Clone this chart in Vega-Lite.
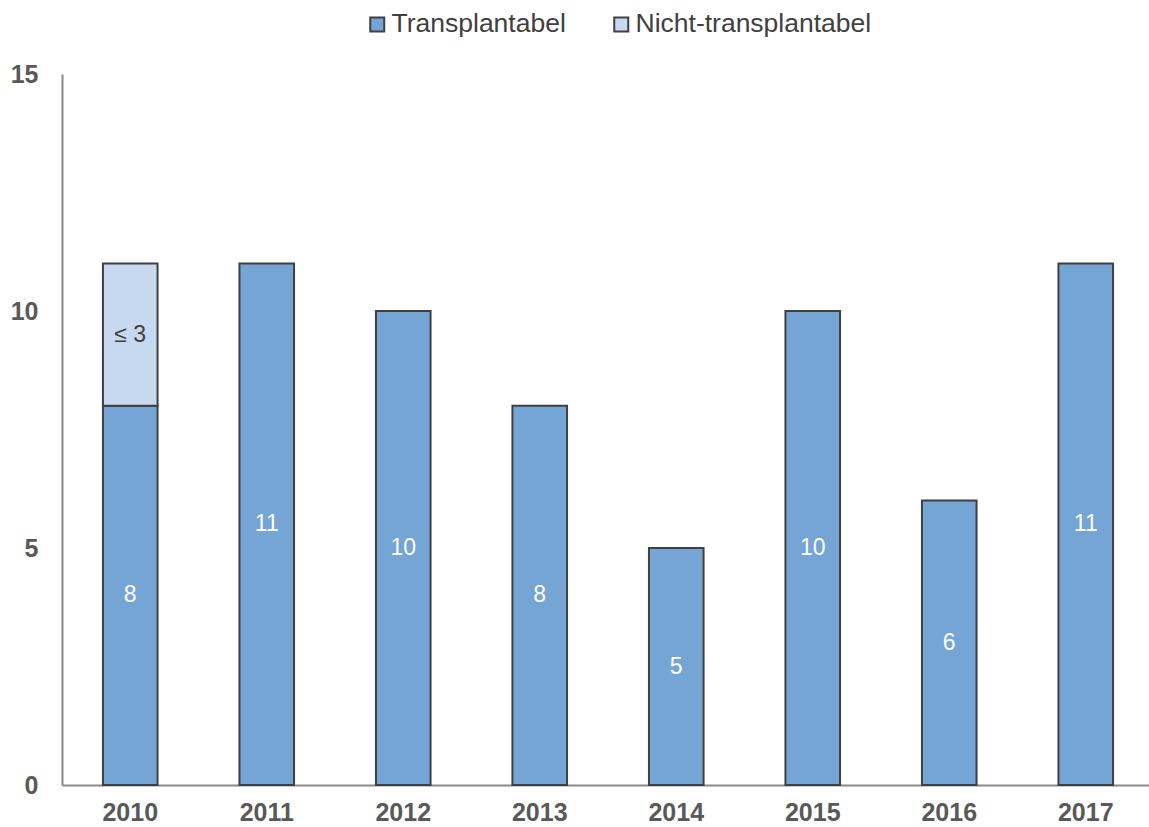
{
  "$schema": "https://vega.github.io/schema/vega-lite/v6.json",
  "width": 1092,
  "height": 711,
  "autosize": {"type": "none"},
  "padding": {"left": 62, "top": 74, "right": 0, "bottom": 42},
  "background": "white",
  "config": {"view": {"stroke": null}, "font": "Liberation Sans"},
  "data": {
    "values": [
      {"year": "2010", "category": "Transplantabel", "ord": 1, "value": 8, "label": "8"},
      {"year": "2010", "category": "Nicht-transplantabel", "ord": 2, "value": 3, "label": "≤ 3"},
      {"year": "2011", "category": "Transplantabel", "ord": 1, "value": 11, "label": "11"},
      {"year": "2012", "category": "Transplantabel", "ord": 1, "value": 10, "label": "10"},
      {"year": "2013", "category": "Transplantabel", "ord": 1, "value": 8, "label": "8"},
      {"year": "2014", "category": "Transplantabel", "ord": 1, "value": 5, "label": "5"},
      {"year": "2015", "category": "Transplantabel", "ord": 1, "value": 10, "label": "10"},
      {"year": "2016", "category": "Transplantabel", "ord": 1, "value": 6, "label": "6"},
      {"year": "2017", "category": "Transplantabel", "ord": 1, "value": 11, "label": "11"}
    ]
  },
  "transform": [
    {"stack": "value", "groupby": ["year"], "sort": [{"field": "ord"}], "as": ["v0", "v1"]},
    {"calculate": "(datum.v0 + datum.v1) / 2", "as": "mid"}
  ],
  "encoding": {
    "x": {
      "field": "year", "type": "nominal",
      "scale": {"paddingInner": 0.6, "paddingOuter": 0.3},
      "axis": {
        "title": null, "labelAngle": 0, "ticks": false, "domainColor": "#898989", "domainWidth": 2,
        "labelFont": "Liberation Sans", "labelFontSize": 25, "labelFontWeight": "bold", "labelColor": "#595959",
        "labelPadding": 15
      }
    }
  },
  "layer": [
    {
      "mark": {"type": "bar", "stroke": "#404040", "strokeWidth": 2},
      "encoding": {
        "y": {
          "field": "v0", "type": "quantitative",
          "scale": {"domain": [0, 15], "nice": false, "zero": true},
          "axis": {
            "title": null, "values": [0, 5, 10, 15], "grid": false, "ticks": false,
            "domainColor": "#898989", "domainWidth": 2,
            "labelFont": "Liberation Sans", "labelFontSize": 25, "labelFontWeight": "bold", "labelColor": "#595959",
            "labelPadding": 24
          }
        },
        "y2": {"field": "v1"},
        "color": {
          "field": "category", "type": "nominal",
          "scale": {"domain": ["Transplantabel", "Nicht-transplantabel"], "range": ["#74A5D4", "#C6D9F0"]},
          "legend": {
            "title": null, "orient": "none", "direction": "horizontal",
            "legendX": 302, "legendY": -63,
            "symbolType": "square", "symbolSize": 196, "symbolStrokeColor": "#404040", "symbolStrokeWidth": 2,
            "labelFont": "Liberation Sans", "labelFontSize": 26.5, "labelColor": "#404040", "labelOffset": 1,
            "labelLimit": 400, "columnPadding": 42
          }
        }
      }
    },
    {
      "mark": {"type": "text", "fontSize": 23, "font": "Liberation Sans", "baseline": "middle"},
      "encoding": {
        "y": {"field": "mid", "type": "quantitative", "scale": {"domain": [0, 15], "nice": false, "zero": true}},
        "text": {"field": "label"},
        "color": {
          "field": "category", "type": "nominal",
          "scale": {"domain": ["Transplantabel", "Nicht-transplantabel"], "range": ["white", "#404040"]},
          "legend": null
        }
      }
    }
  ],
  "resolve": {"scale": {"color": "independent"}}
}
